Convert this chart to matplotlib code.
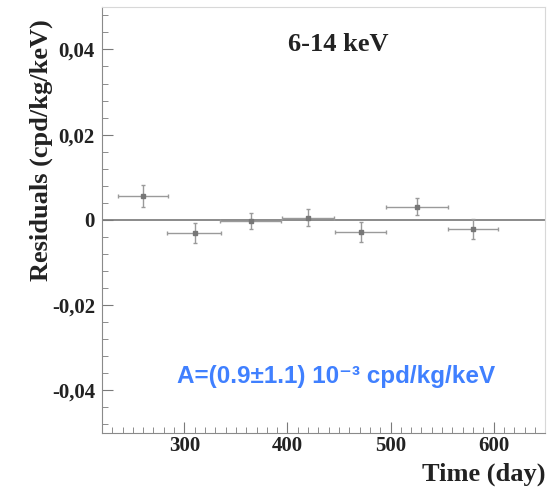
import matplotlib.pyplot as plt
from matplotlib.ticker import MultipleLocator, FuncFormatter

# residuals per time bin (6-14 keV)
days = [260, 310, 365, 420, 471, 526, 580]
day_lo = [24, 27, 30, 25, 25, 30, 24]
day_hi = [24, 26, 29, 25, 25, 30, 24]
resid = [0.0055, -0.0031, -0.0002, 0.0005, -0.0029, 0.0031, -0.0022]
resid_err = [0.0026, 0.0024, 0.0019, 0.0020, 0.0024, 0.0020, 0.0024]

x_ticks = [300, 400, 500, 600]
y_ticks = [-0.04, -0.02, 0, 0.02, 0.04]

fig = plt.figure(figsize=(5.54, 4.88), dpi=100)
ax = fig.add_axes([0.184, 0.113, 0.8, 0.873])

serif = 'Liberation Serif'

# zero line
ax.axhline(0, color='#8a8a8a', lw=1.4, zorder=1)

ax.errorbar(days, resid, xerr=[day_lo, day_hi], yerr=resid_err,
            fmt='s', ms=2.5, mfc='#777777', mec='#777777',
            ecolor='#9a9a9a', elinewidth=1.0, capsize=1.5, zorder=2)

ax.set_xlim(220, 650)
ax.set_ylim(-0.05, 0.05)

ax.set_xticks(x_ticks)
ax.set_yticks(y_ticks)
ax.xaxis.set_minor_locator(MultipleLocator(10))
ax.yaxis.set_minor_locator(MultipleLocator(0.004))


def comma_fmt(v, pos):
    if abs(v) < 1e-9:
        return '0'
    return ('%.2f' % v).replace('.', ',')


ax.yaxis.set_major_formatter(FuncFormatter(comma_fmt))

ax.tick_params(which='both', direction='in', colors='#7a7a7a',
               labelcolor='#222222', top=False, right=False)
ax.tick_params(which='major', length=8, width=0.8)
ax.tick_params(which='minor', length=4, width=0.6)
ax.tick_params(axis='y', pad=5)
ax.tick_params(axis='x', pad=2)
for lab in ax.get_xticklabels() + ax.get_yticklabels():
    lab.set_fontfamily(serif)
    lab.set_fontweight('bold')
    lab.set_fontsize(15)

ax.spines['left'].set_color('#8a8a8a')
ax.spines['bottom'].set_color('#8a8a8a')
ax.spines['top'].set_color('#d8d8d8')
ax.spines['right'].set_color('#d8d8d8')

fig.text(41 / 554, 1 - 150 / 488, 'Residuals (cpd/kg/keV)', rotation=90,
         fontfamily=serif, fontweight='bold', fontsize=19, color='#222222',
         ha='center', va='center')
fig.text(546 / 554, 1 - 474 / 488, 'Time (day)', fontfamily=serif,
         fontweight='bold', fontsize=19, color='#222222',
         ha='right', va='center')

ax.text(449, 0.0412, '6-14 keV', fontfamily=serif, fontweight='bold',
        fontsize=19, color='#222222', ha='center', va='center')
ax.text(447, -0.0367, 'A=(0.9±1.1) 10⁻³ cpd/kg/keV',
        fontfamily=['Liberation Sans', 'DejaVu Sans'], fontweight='bold',
        fontsize=17.5, color='#4080ff', ha='center', va='center')

fig.savefig('out.png', dpi=100)
